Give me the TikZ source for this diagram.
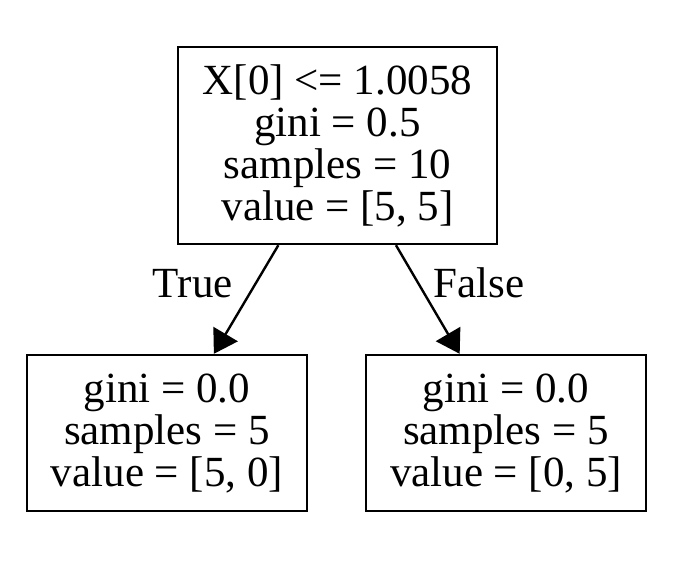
\documentclass[tikz,border=0pt]{standalone}
\usepackage{fontspec}
\setmainfont{Liberation Serif}
\usetikzlibrary{arrows.meta}
\tikzstyle{split} = [rectangle, draw=black, line width=1.2pt, align=center, inner sep=0pt, font=\fontsize{21.5}{21}\selectfont]
\tikzstyle{leaf} = [split, minimum width=140pt, minimum height=78pt]
\tikzstyle{arrow} = [line width=1.2pt, -{Triangle[length=11.5pt,width=14pt]}]
\tikzstyle{answer} = [inner sep=0pt, font=\fontsize{21.5}{21}\selectfont]

\begin{document}
\begin{tikzpicture}[x=0.5pt, y=-0.5pt]
\useasboundingbox (0,0) rectangle (678,580);

% Root split
\node (root) [split, minimum width=159.5pt, minimum height=98.5pt] at (337.5,145.5) {X[0] <= 1.0058\\gini = 0.5\\samples = 10\\value = [5, 5]};

% Leaves
\node (left-leaf) [leaf] at (167,433) {gini = 0.0\\samples = 5\\value = [5, 0]};
\node (right-leaf) [leaf] at (506,433) {gini = 0.0\\samples = 5\\value = [0, 5]};

% Arrows
\draw [arrow] (root) -- node[answer, pos=0.35, anchor=east, xshift=-11pt] {True} (left-leaf);
\draw [arrow] (root) -- node[answer, pos=0.35, anchor=west, xshift=7pt] {False} (right-leaf);

\end{tikzpicture}
\end{document}
